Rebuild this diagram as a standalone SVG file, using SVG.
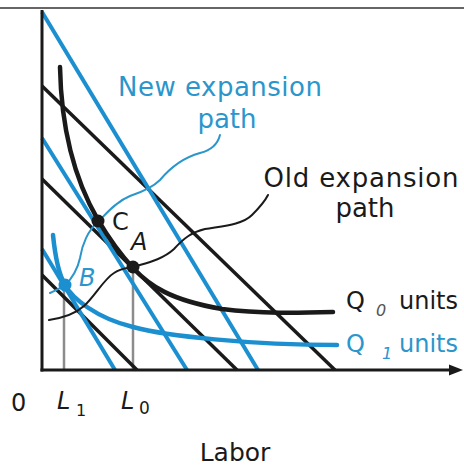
<svg xmlns="http://www.w3.org/2000/svg" width="464" height="467" viewBox="0 0 464 467">
<style>
.ax{stroke:#1a1a1a;stroke-width:3;fill:none}
.blk{stroke:#1a1a1a;stroke-width:3.5;fill:none;stroke-linecap:butt}
.blu{stroke:#1b8fcf;stroke-width:4;fill:none}
.iq0{stroke:#1a1a1a;stroke-width:4.5;fill:none;stroke-linecap:round}
.iq1{stroke:#1b8fcf;stroke-width:4.5;fill:none;stroke-linecap:round}
.pb{stroke:#1a1a1a;stroke-width:2;fill:none;stroke-linecap:round}
.pu{stroke:#2a96cc;stroke-width:2;fill:none;stroke-linecap:round}
.gr{stroke:#8c8c8c;stroke-width:2.5}
text{font-family:"DejaVu Sans","Liberation Sans",sans-serif}
.t{fill:#1a1a1a}
.tb{fill:#2a96cc}
.it{font-style:italic}
</style>
<rect width="464" height="467" fill="#ffffff"/>
<line x1="0" y1="8" x2="464" y2="8" stroke="#333" stroke-width="1.5"/>

<g id="dropLines">
<line class="gr" x1="64" y1="285" x2="64" y2="370"/>
<line class="gr" x1="133" y1="268" x2="133" y2="370"/>
</g>

<g id="isocosts">
<line class="blk" x1="42" y1="86" x2="335" y2="370"/>
<line class="blk" x1="42" y1="179" x2="237" y2="370"/>
<line class="blk" x1="42" y1="275" x2="137" y2="370"/>
<line class="blu" x1="42" y1="12" x2="258" y2="370"/>
<line class="blu" x1="42" y1="138" x2="187" y2="370"/>
<line class="blu" x1="42" y1="249" x2="115" y2="370"/>
</g>

<g id="isoquants">
<path class="iq0" d="M60,67 C61,120 72,175 98,220 C108,237 119,253 133,268 C150,286 170,300 222,309 C260,314 300,313 333,312"/>
<path class="iq1" d="M53,235 C55,255 58,273 65,285 C72,298 96,318 133,327 C166,336 250,345 337,345"/>
</g>

<g id="expansionPaths">
<path class="pb" d="M49,320 C62,318 74,315 84,306 C95,296 104,279 114,273 C121,268 127,268 133,267 C146,263 162,260 174,249 C184,238 192,232 205,229 C222,226 242,225 252,215 C259,208 265,201 268,195"/>
<path class="pu" d="M50,293 C56,290 61,288 65,285 C72,279 78,268 80,258 C82,245 88,230 98,222 C105,215 115,202 130,196 C142,192 152,188 160,180 C170,168 182,158 200,153 C212,150 218,143 220,135"/>
</g>

<g id="axes">
<line class="ax" x1="42" y1="10" x2="42" y2="371.5"/>
<line class="ax" x1="40.5" y1="370" x2="452" y2="370"/>
<polygon points="463,370 449,364.5 449,375.5" fill="#1a1a1a"/>
</g>

<g id="points">
<circle cx="98" cy="221" r="6.5" fill="#1a1a1a"/>
<circle cx="133" cy="267" r="6.5" fill="#1a1a1a"/>
<circle cx="65" cy="285" r="6.5" fill="#1b8fcf"/>
</g>

<g id="labels">
<text class="tb" x="220" y="96" font-size="26" text-anchor="middle" textLength="204" lengthAdjust="spacing">New expansion</text>
<text class="tb" x="227" y="128" font-size="26" text-anchor="middle">path</text>
<text class="t" x="361" y="187" font-size="26" text-anchor="middle" textLength="195" lengthAdjust="spacing">Old expansion</text>
<text class="t" x="365" y="217" font-size="26" text-anchor="middle">path</text>
<text class="t" x="112" y="230" font-size="24">C</text>
<text class="t it" x="131" y="250" font-size="24">A</text>
<text class="tb it" x="79" y="286" font-size="24">B</text>
<text class="t" x="346" y="309" font-size="24">Q</text>
<text class="it" x="376" y="316" font-size="16" fill="#555">0</text>
<text class="t" x="399" y="309" font-size="24">units</text>
<text class="tb" x="346" y="352" font-size="24">Q</text>
<text class="tb it" x="382" y="359" font-size="16">1</text>
<text class="tb" x="399" y="352" font-size="24">units</text>
<text class="t" x="11" y="411" font-size="24">0</text>
<text class="t it" x="57" y="409" font-size="24">L</text>
<text class="t" x="76" y="416" font-size="16" fill="#555">1</text>
<text class="t it" x="121" y="409" font-size="24">L</text>
<text class="t" x="139" y="414" font-size="17" fill="#555">0</text>
<text class="t" x="235" y="461" font-size="25" text-anchor="middle">Labor</text>
</g>
</svg>
